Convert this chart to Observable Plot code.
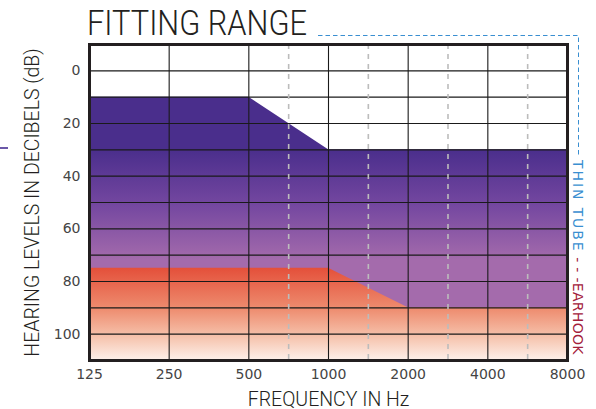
<!DOCTYPE html>
<html><head><meta charset="utf-8">
<script src="https://cdn.jsdelivr.net/npm/d3@7"></script>
<script src="https://cdn.jsdelivr.net/npm/@observablehq/plot@0.6"></script>
<style>
body{margin:0;background:#fff;}
#wrap{position:relative;width:596px;height:409px;overflow:hidden;background:#fff;}
#wrap svg.plot{position:absolute;left:0;top:0;}
#title{position:absolute;left:87px;top:6px;font-family:"Roboto",sans-serif;font-weight:300;font-size:35px;line-height:35px;color:#231f20;white-space:nowrap;transform:scaleX(0.88);transform-origin:0 0;}
#legend{position:absolute;left:570px;top:160px;writing-mode:vertical-rl;font-family:"DejaVu Sans",sans-serif;font-size:14px;line-height:16px;white-space:nowrap;}
#legend .thin{color:#3a8fd1;letter-spacing:1.9px;}
#legend .ear{color:#a3203a;letter-spacing:0.3px;}
#tick{position:absolute;left:0;top:147px;width:8px;height:2px;background:#6b58a8;}
#overlay{position:absolute;left:0;top:0;pointer-events:none;}
[aria-label="x-axis label"] text,[aria-label="y-axis label"] text{font-family:"Roboto",sans-serif;font-weight:300;font-size:19.5px;fill:#231f20;}
</style>
</head><body>
<div id="wrap">
  <div id="tick"></div>
  <div id="title">FITTING RANGE</div>
  <svg id="overlay" width="596" height="409"><path d="M318,35.5H578.5V156" fill="none" stroke="#3a8fd1" stroke-width="1" stroke-dasharray="4.5,3"/></svg>
  <div id="legend"><span class="thin">THIN TUBE</span><span class="ear"> - - -EARHOOK</span></div>
</div>
<script>
const freqTicks = [125, 250, 500, 1000, 2000, 4000, 8000];
const dbTicks = [0, 20, 40, 60, 80, 100];
const dbGrid = [0, 10, 20, 30, 40, 50, 60, 70, 80, 90, 100];
const thinTubeFreq = [125, 500, 1000, 8000];
const thinTubeDb = [10, 10, 30, 30];
const earhookFreq = [125, 1000, 2000, 8000];
const earhookDb = [75, 75, 90, 90];
const dbTop = -10, dbBottom = 110;

// half-octave guide lines sit midway (on the log axis) between octave ticks from 500 Hz up
const halfOctaveFreq = d3.pairs(freqTicks).slice(2).map(([a, b]) => Math.sqrt(a * b));

const thinTube = thinTubeFreq.map((f, i) => ({f, db: thinTubeDb[i]}));
const earhook = earhookFreq.map((f, i) => ({f, db: earhookDb[i]}));

const plot = Plot.plot({
  width: 596, height: 409,
  marginLeft: 89, marginRight: 29, marginTop: 44, marginBottom: 49,
  style: {fontFamily: "DejaVu Sans, sans-serif", fontSize: "14px", color: "#444", background: "transparent"},
  x: {type: "log", base: 2, domain: [125, 8000], ticks: freqTicks, tickFormat: "d", tickSize: 0, tickPadding: 9,
      label: "FREQUENCY IN Hz", labelAnchor: "center", labelOffset: 45, labelArrow: "none"},
  y: {domain: [dbTop, dbBottom], reverse: true, ticks: dbTicks, tickSize: 0, tickPadding: 9,
      label: "HEARING LEVELS IN DECIBELS (dB)", labelAnchor: "center", labelOffset: 64, labelArrow: "none"},
  marks: [
    Plot.areaY(thinTube, {x: "f", y1: "db", y2: dbBottom, fill: "url(#gradThin)"}),
    Plot.areaY(earhook, {x: "f", y1: "db", y2: dbBottom, fill: "url(#gradEar)"}),
    Plot.ruleY(dbGrid, {stroke: "#1a1a1a", strokeWidth: 1.1}),
    Plot.ruleX(freqTicks, {stroke: "#1a1a1a", strokeWidth: 1.1}),
    Plot.ruleX(halfOctaveFreq, {stroke: "#bcbcbc", strokeWidth: 1.6, strokeDasharray: "5,5"}),
    Plot.frame({stroke: "#231f20", strokeWidth: 3})
  ]
});
plot.classList.add("plot");

const ys = plot.scale("y");
const svg = d3.select(plot);
const defs = svg.insert("defs", ":first-child");
const g1 = defs.append("linearGradient").attr("id", "gradThin").attr("gradientUnits", "userSpaceOnUse")
  .attr("x1", 0).attr("x2", 0).attr("y1", ys.apply(30)).attr("y2", ys.apply(72));
g1.append("stop").attr("offset", 0).attr("stop-color", "#4a2e8c");
g1.append("stop").attr("offset", 0.5).attr("stop-color", "#7447a0");
g1.append("stop").attr("offset", 1).attr("stop-color", "#a46bac");
const g2 = defs.append("linearGradient").attr("id", "gradEar").attr("gradientUnits", "userSpaceOnUse")
  .attr("x1", 0).attr("x2", 0).attr("y1", ys.apply(75)).attr("y2", ys.apply(110));
g2.append("stop").attr("offset", 0).attr("stop-color", "#e4503a");
g2.append("stop").attr("offset", 0.45).attr("stop-color", "#ee8d70");
g2.append("stop").attr("offset", 0.75).attr("stop-color", "#f6c3ad");
g2.append("stop").attr("offset", 1).attr("stop-color", "#fdf0ea");

document.getElementById("wrap").insertBefore(plot, document.getElementById("wrap").firstChild);
</script>
</body></html>
